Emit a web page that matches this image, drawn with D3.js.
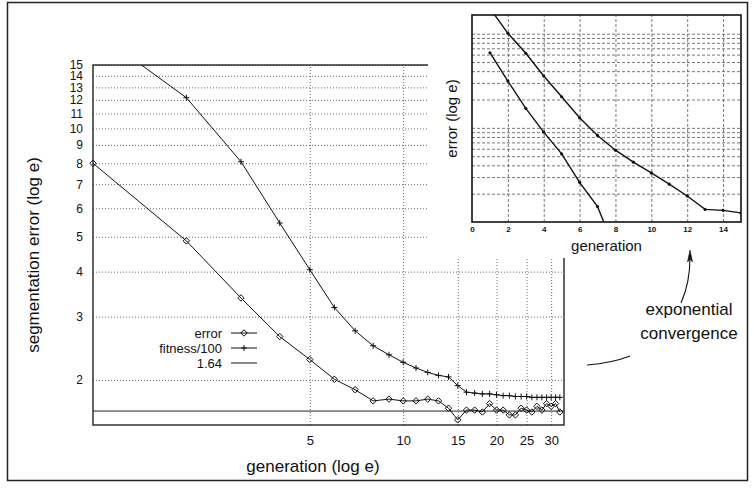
<html>
<head>
<script src="https://d3js.org/d3.v7.min.js"></script>
<style>
  body { margin: 0; background: #fff; }
  text { font-family: "Liberation Sans", Arial, sans-serif; fill: #111; }
  .grid line { stroke: #444; stroke-dasharray: 1,2; stroke-width: 0.8; }
  .igrid line { stroke: #555; stroke-dasharray: 3,2; stroke-width: 0.8; }
</style>
</head>
<body>
<svg id="chart" width="754" height="489"></svg>
<script>
// main chart data
const generations = [1,2,3,4,5,6,7,8,9,10,11,12,13,14,15,16,17,18,19,20,21,22,23,24,25,26,27,28,29,30,31,32];
const errorValues = [8.0,4.87,3.38,2.64,2.28,2.01,1.88,1.75,1.77,1.75,1.75,1.77,1.75,1.67,1.55,1.65,1.65,1.63,1.72,1.65,1.65,1.60,1.60,1.67,1.65,1.63,1.69,1.65,1.72,1.69,1.72,1.63];
const fitnessValues = [18.8,12.17,8.08,5.46,4.05,3.18,2.74,2.49,2.35,2.24,2.16,2.10,2.06,2.04,1.93,1.85,1.84,1.83,1.83,1.82,1.81,1.81,1.80,1.80,1.80,1.79,1.79,1.79,1.79,1.79,1.79,1.79];
const threshold = 1.64;
const yTicks = [2,3,4,5,6,7,8,9,10,11,12,13,14,15];
const xTicks = [5,10,15,20,25,30];
const legendLabels = ['error', 'fitness/100', '1.64'];

// inset data
const insetGensA = [1,2,3,4,5,6,7,8];
const insetA = [62.8,31.4,16.1,9.0,5.29,2.64,1.46,0.49];
const insetGensB = [1,2,3,4,5,6,7,8,9,10,11,12,13,14,15];
const insetB = [186,101,61.9,35.5,21.4,12.8,8.3,5.79,4.32,3.32,2.52,1.89,1.36,1.33,1.25];
const insetXTicks = [0,2,4,6,8,10,12,14];
const insetYGrid = [2,3,4,5,6,7,8,9,10,20,30,40,50,60,70,80,90,100];

const svg = d3.select('svg#chart');
const defs = svg.append('defs');

// marker shapes
const diamondPath = r => `M0,${-r}L${r},0L0,${r}L${-r},0Z`;
const plusPath = r => `M${-r},0H${r}M0,${-r}V${r}`;

// ---------- main chart ----------
const margins = {top: 65, left: 93, right: 564, bottom: 425};
const x = d3.scaleLog().domain([1, 33]).range([margins.left, margins.right]);
const y = d3.scaleLog().domain([1.5, 15]).range([margins.bottom, margins.top]);

defs.append('clipPath').attr('id', 'mainclip')
  .append('rect')
  .attr('x', margins.left).attr('y', margins.top)
  .attr('width', margins.right - margins.left).attr('height', margins.bottom - margins.top);

// gridlines
svg.append('g')
  .attr('class', 'grid')
  .attr('transform', `translate(${margins.left},0)`)
  .call(d3.axisLeft(y).tickValues(yTicks).tickSize(-(margins.right - margins.left)).tickFormat(''))
  .call(g => g.select('.domain').remove());

svg.append('g')
  .attr('class', 'grid')
  .attr('transform', `translate(0,${margins.bottom})`)
  .call(d3.axisBottom(x).tickValues(xTicks).tickSize(-(margins.bottom - margins.top)).tickFormat(''))
  .call(g => g.select('.domain').remove());

// axes
let yAxis = svg.append('g')
  .attr('transform', `translate(${margins.left},0)`)
  .call(d3.axisLeft(y).tickValues(yTicks).tickSize(0).tickPadding(10).tickFormat(d3.format('d')));
yAxis.select('.domain').remove();
yAxis.selectAll('text').attr('font-size', 12).attr('fill', '#111').attr('font-family', 'Liberation Sans');

let xAxis = svg.append('g')
  .attr('transform', `translate(0,${margins.bottom})`)
  .call(d3.axisBottom(x).tickValues(xTicks).tickSize(0).tickPadding(11).tickFormat(d3.format('d')));
xAxis.select('.domain').remove();
xAxis.selectAll('text').attr('font-size', 13).attr('fill', '#111').attr('font-family', 'Liberation Sans');

// threshold line
svg.append('line')
  .attr('x1', margins.left).attr('x2', margins.right)
  .attr('y1', y(threshold)).attr('y2', y(threshold))
  .attr('stroke', '#222').attr('stroke-width', 1);

// border
svg.append('rect')
  .attr('x', margins.left).attr('y', margins.top)
  .attr('width', margins.right - margins.left).attr('height', margins.bottom - margins.top)
  .attr('fill', 'none').attr('stroke', '#111').attr('stroke-width', 1.3);

const line = d3.line().x(d => x(d[0])).y(d => y(d[1]));
const errPts = generations.map((g, i) => [g, errorValues[i]]);
const fitPts = generations.map((g, i) => [g, fitnessValues[i]]);

let plot = svg.append('g').attr('clip-path', 'url(#mainclip)');
plot.append('path').datum(errPts).attr('d', line)
  .attr('fill', 'none').attr('stroke', '#111').attr('stroke-width', 1);
plot.append('path').datum(fitPts).attr('d', line)
  .attr('fill', 'none').attr('stroke', '#111').attr('stroke-width', 1);

svg.selectAll('path.diamond').data(errPts).join('path')
  .attr('class', 'diamond')
  .attr('d', diamondPath(3.2))
  .attr('transform', d => `translate(${x(d[0])},${y(d[1])})`)
  .attr('fill', 'none').attr('stroke', '#111').attr('stroke-width', 1);

svg.selectAll('path.plus').data(fitPts.filter(d => d[1] <= 15)).join('path')
  .attr('class', 'plus')
  .attr('d', plusPath(3))
  .attr('transform', d => `translate(${x(d[0])},${y(d[1])})`)
  .attr('fill', 'none').attr('stroke', '#111').attr('stroke-width', 1);

// legend
legendLabels.forEach((lab, i) => {
  const ly = 333 + i * 15;
  svg.append('text').attr('x', 222).attr('y', ly).attr('dy', '0.35em')
    .attr('text-anchor', 'end').attr('font-size', 13).text(lab);
  svg.append('line').attr('x1', 231).attr('x2', 257).attr('y1', ly).attr('y2', ly)
    .attr('stroke', '#111').attr('stroke-width', 1);
  if (i === 0) {
    svg.append('path').attr('d', diamondPath(3.2)).attr('transform', `translate(244,${ly})`)
      .attr('fill', 'none').attr('stroke', '#111');
  } else if (i === 1) {
    svg.append('path').attr('d', plusPath(3)).attr('transform', `translate(244,${ly})`)
      .attr('fill', 'none').attr('stroke', '#111');
  }
});

// axis titles
svg.append('text').attr('x', 313).attr('y', 472).attr('text-anchor', 'middle')
  .attr('font-size', 17).text('generation (log e)');
svg.append('text').attr('transform', 'translate(39,255) rotate(-90)').attr('text-anchor', 'middle')
  .attr('font-size', 17).text('segmentation error (log e)');

// ---------- inset ----------
// white panel laid over the upper right of the main plot
svg.append('rect')
  .attr('x', 428).attr('y', 3).attr('width', 319).attr('height', 255)
  .attr('fill', '#fff');

const inset = {left: 472, right: 741, top: 15, bottom: 222};
const ix = d3.scaleLinear().domain([0, 15]).range([inset.left, inset.right]);
const iy = d3.scaleLog().domain([1, 158]).range([inset.bottom, inset.top]);

defs.append('clipPath').attr('id', 'insetclip')
  .append('rect')
  .attr('x', inset.left).attr('y', inset.top)
  .attr('width', inset.right - inset.left).attr('height', inset.bottom - inset.top);

svg.append('g')
  .attr('class', 'igrid')
  .attr('transform', `translate(${inset.left},0)`)
  .call(d3.axisLeft(iy).tickValues(insetYGrid).tickSize(-(inset.right - inset.left)).tickFormat(''))
  .call(g => g.select('.domain').remove());

svg.append('g')
  .attr('class', 'igrid')
  .attr('transform', `translate(0,${inset.bottom})`)
  .call(d3.axisBottom(ix).tickValues(insetXTicks.slice(1)).tickSize(-(inset.bottom - inset.top)).tickFormat(''))
  .call(g => g.select('.domain').remove());

let ixAxis = svg.append('g')
  .attr('transform', `translate(0,${inset.bottom})`)
  .call(d3.axisBottom(ix).tickValues(insetXTicks).tickSize(0).tickPadding(4).tickFormat(d3.format('d')));
ixAxis.select('.domain').remove();
ixAxis.selectAll('text').attr('font-size', 8).attr('font-weight', 'bold').attr('fill', '#111')
  .attr('font-family', 'Liberation Sans');

svg.append('rect')
  .attr('x', inset.left).attr('y', inset.top)
  .attr('width', inset.right - inset.left).attr('height', inset.bottom - inset.top)
  .attr('fill', 'none').attr('stroke', '#111').attr('stroke-width', 1.6);

const iline = d3.line().x(d => ix(d[0])).y(d => iy(d[1]));
const iA = insetGensA.map((g, i) => [g, insetA[i]]);
const iB = insetGensB.map((g, i) => [g, insetB[i]]);
let iplot = svg.append('g').attr('clip-path', 'url(#insetclip)');
[iA, iB].forEach((pts, k) => {
  iplot.append('path').datum(pts).attr('d', iline)
    .attr('fill', 'none').attr('stroke', '#111').attr('stroke-width', 1.4);
  iplot.selectAll(null).data(k === 0 ? pts : pts.slice(1)).join('circle')
    .attr('cx', d => ix(d[0])).attr('cy', d => iy(d[1])).attr('r', 1.6).attr('fill', '#111');
});

svg.append('text').attr('x', (inset.left + inset.right) / 2).attr('y', 251).attr('text-anchor', 'middle')
  .attr('font-size', 15).text('generation');
svg.append('text').attr('transform', `translate(457,${(inset.top + inset.bottom) / 2}) rotate(-90)`)
  .attr('text-anchor', 'middle').attr('font-size', 15).text('error (log e)');

// ---------- annotation ----------
svg.append('text').attr('x', 689).attr('y', 315).attr('text-anchor', 'middle')
  .attr('font-size', 17).text('exponential');
svg.append('text').attr('x', 689).attr('y', 339).attr('text-anchor', 'middle')
  .attr('font-size', 17).text('convergence');

svg.append('path').attr('d', 'M587,365 Q612,363 630,356')
  .attr('fill', 'none').attr('stroke', '#111').attr('stroke-width', 1.1);
svg.append('path').attr('d', 'M681,303 Q690,283 690,257')
  .attr('fill', 'none').attr('stroke', '#111').attr('stroke-width', 1.1);
svg.append('path').attr('d', 'M690,250 L687.5,262 L690,259 L692.5,262 Z')
  .attr('fill', '#111').attr('stroke', '#111').attr('stroke-width', 0.6);

// outer frame
svg.append('rect')
  .attr('x', 7.5).attr('y', 2.5).attr('width', 740).attr('height', 478)
  .attr('fill', 'none').attr('stroke', '#222').attr('stroke-width', 1.5);
</script>
</body>
</html>
